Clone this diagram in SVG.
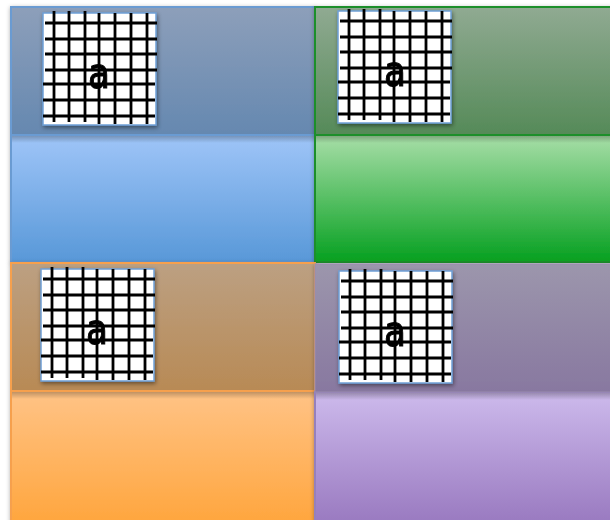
<svg xmlns="http://www.w3.org/2000/svg" xmlns:xlink="http://www.w3.org/1999/xlink" width="610" height="520" viewBox="0 0 610 520">
<style>
.gl{stroke:#000;stroke-width:2.8;stroke-linecap:butt}
.lab{font-family:"DejaVu Sans","Liberation Sans",Arial,sans-serif;font-size:36px;fill:#000;stroke:#000;stroke-width:0.9;text-anchor:middle}
.box{fill:#fff;stroke:#6e9fd6;stroke-width:1.5}
</style>
<defs>
<filter id="sh" x="-10%" y="-10%" width="130%" height="130%"><feDropShadow dx="1" dy="2" stdDeviation="2" flood-color="#000" flood-opacity="0.45"/></filter>
<filter id="psh" x="-5%" y="-5%" width="110%" height="110%"><feDropShadow dx="0" dy="1" stdDeviation="2" flood-color="#000" flood-opacity="0.3"/></filter>
<linearGradient id="hB" x1="0" y1="0" x2="0" y2="1"><stop offset="0" stop-color="#8d9fba"/><stop offset="1" stop-color="#6588b0"/></linearGradient>
<linearGradient id="bB" x1="0" y1="0" x2="0" y2="1"><stop offset="0" stop-color="#9fc5f8"/><stop offset="1" stop-color="#5898d8"/></linearGradient>
<linearGradient id="hG" x1="0" y1="0" x2="0" y2="1"><stop offset="0" stop-color="#90aa92"/><stop offset="1" stop-color="#558a58"/></linearGradient>
<linearGradient id="bG" x1="0" y1="0" x2="0" y2="1"><stop offset="0" stop-color="#a8dea8"/><stop offset="1" stop-color="#06a020"/></linearGradient>
<linearGradient id="hO" x1="0" y1="0" x2="0" y2="1"><stop offset="0" stop-color="#bca082"/><stop offset="1" stop-color="#b88a55"/></linearGradient>
<linearGradient id="bO" x1="0" y1="0" x2="0" y2="1"><stop offset="0" stop-color="#ffc386"/><stop offset="1" stop-color="#ffa53c"/></linearGradient>
<linearGradient id="hP" x1="0" y1="0" x2="0" y2="1"><stop offset="0" stop-color="#9c96ac"/><stop offset="1" stop-color="#8878a0"/></linearGradient>
<linearGradient id="bP" x1="0" y1="0" x2="0" y2="1"><stop offset="0" stop-color="#cdbaec"/><stop offset="1" stop-color="#9878bf"/></linearGradient>
<linearGradient id="hs" x1="0" y1="0" x2="0" y2="1"><stop offset="0" stop-color="#000" stop-opacity="0.25"/><stop offset="1" stop-color="#000" stop-opacity="0"/></linearGradient>
<g id="grid">
<rect class="box" x="0" y="0" width="113" height="112"/>
<g class="gl">
<line x1="11" y1="-2" x2="11" y2="109"/>
<line x1="26" y1="-2" x2="26" y2="109"/>
<line x1="42" y1="-2" x2="42" y2="109"/>
<line x1="56" y1="0" x2="56" y2="111"/>
<line x1="72" y1="0" x2="72" y2="111"/>
<line x1="88" y1="0" x2="88" y2="111"/>
<line x1="104" y1="0" x2="104" y2="111"/>
<line x1="2" y1="10" x2="114" y2="10"/>
<line x1="2" y1="26" x2="114" y2="26"/>
<line x1="2" y1="41" x2="114" y2="41"/>
<line x1="2" y1="57" x2="114" y2="57"/>
<line x1="0" y1="71" x2="112" y2="71"/>
<line x1="0" y1="87" x2="112" y2="87"/>
<line x1="0" y1="103" x2="112" y2="103"/>
</g>
</g>
</defs>

<g id="panel-blue" filter="url(#psh)">
<rect x="11" y="135" width="304" height="127" fill="url(#bB)" stroke="#6a9bd2" stroke-width="2"/>
<rect x="11" y="7" width="304" height="128" fill="url(#hB)" stroke="#6a9bd2" stroke-width="2"/>
<rect x="12" y="136" width="302" height="7" fill="url(#hs)"/>
<use xlink:href="#grid" x="43" y="13" filter="url(#sh)"/>
<g transform="translate(99,88) scale(1,1.2)"><text class="lab" x="0" y="0">a</text></g>
</g>

<g id="panel-green" filter="url(#psh)">
<rect x="315" y="135" width="300" height="127" fill="url(#bG)" stroke="#1f8f2a" stroke-width="2"/>
<rect x="315" y="7" width="300" height="128" fill="url(#hG)" stroke="#1f8f2a" stroke-width="2"/>
<rect x="316" y="136" width="298" height="7" fill="url(#hs)"/>
<use xlink:href="#grid" x="338" y="11" filter="url(#sh)"/>
<g transform="translate(395,86) scale(1,1.2)"><text class="lab" x="0" y="0">a</text></g>
</g>

<g id="panel-orange" filter="url(#psh)">
<rect x="11" y="391" width="304" height="135" fill="url(#bO)" stroke="#f6a04e" stroke-width="2"/>
<rect x="11" y="263" width="304" height="128" fill="url(#hO)" stroke="#f6a04e" stroke-width="2"/>
<rect x="12" y="392" width="302" height="7" fill="url(#hs)"/>
<use xlink:href="#grid" x="41" y="269" filter="url(#sh)"/>
<g transform="translate(97,344) scale(1,1.2)"><text class="lab" x="0" y="0">a</text></g>
</g>

<g id="panel-purple" filter="url(#psh)">
<rect x="315" y="392" width="300" height="134" fill="url(#bP)" stroke="#9580bd" stroke-width="2"/>
<rect x="315" y="264" width="300" height="128" fill="url(#hP)" stroke="#9a8cb0" stroke-width="1"/>
<rect x="316" y="393" width="298" height="7" fill="url(#hs)"/>
<use xlink:href="#grid" x="339" y="271" filter="url(#sh)"/>
<g transform="translate(395,346) scale(1,1.2)"><text class="lab" x="0" y="0">a</text></g>
</g>

<g id="connectors"></g>
</svg>
